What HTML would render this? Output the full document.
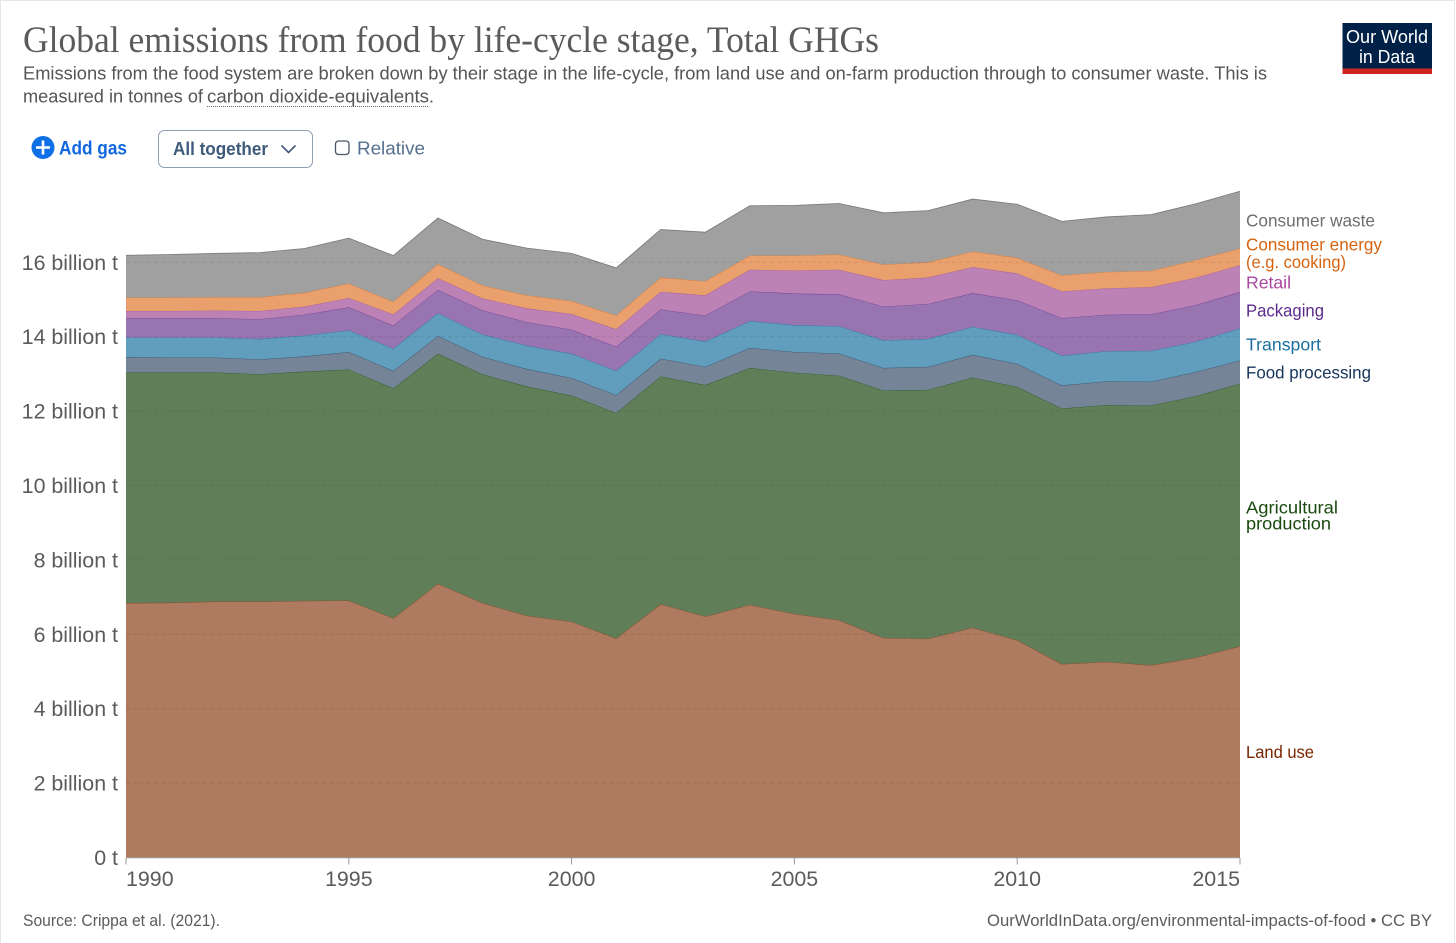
<!DOCTYPE html>
<html lang="en">
<head>
<meta charset="utf-8">
<title>Global emissions from food by life-cycle stage, Total GHGs</title>
<style>
html,body{margin:0;padding:0;background:#fff;width:1456px;height:943px;overflow:hidden}
svg{display:block;font-family:"Liberation Sans",sans-serif}
</style>
</head>
<body>
<svg id="chart" width="1456" height="943" viewBox="0 0 1456 943" xmlns="http://www.w3.org/2000/svg">
  <rect x="0" y="0" width="1456" height="943" fill="#fff"/>
  <path d="M0.5 943V0.5H1454.5V943" fill="none" stroke="#e6e6e6" stroke-width="1"/>

  <text x="23" y="52" font-family="'Liberation Serif',serif" font-size="37" fill="#5b5b5b" textLength="856" lengthAdjust="spacingAndGlyphs">Global emissions from food by life-cycle stage, Total GHGs</text>
  <text x="23" y="79.5" font-size="18" fill="#555" textLength="1244" lengthAdjust="spacingAndGlyphs">Emissions from the food system are broken down by their stage in the life-cycle, from land use and on-farm production through to consumer waste. This is</text>
  <text x="23" y="102.5" font-size="18" fill="#555" textLength="180" lengthAdjust="spacingAndGlyphs">measured in tonnes of</text>
  <text x="207" y="102.5" font-size="18" fill="#555" textLength="222" lengthAdjust="spacingAndGlyphs">carbon dioxide-equivalents</text>
  <text x="429" y="102.5" font-size="18" fill="#555">.</text>
  <line x1="207" y1="106.5" x2="429" y2="106.5" stroke="#666" stroke-width="1" stroke-dasharray="1 1"/>

  <g>
    <rect x="1342.5" y="23" width="89.5" height="51" fill="#002147"/>
    <rect x="1342.5" y="68.5" width="89.5" height="5.5" fill="#ce261e"/>
    <text x="1387" y="43" font-size="18.5" fill="#fff" text-anchor="middle" textLength="82" lengthAdjust="spacingAndGlyphs">Our World</text>
    <text x="1387" y="63" font-size="18.5" fill="#fff" text-anchor="middle" textLength="56" lengthAdjust="spacingAndGlyphs">in Data</text>
  </g>

  <g>
    <circle cx="43" cy="147.5" r="11.5" fill="#0f6fe6"/>
    <path d="M43 140.5V154.5M36 147.5H50" stroke="#fff" stroke-width="2.6"/>
    <text x="59" y="154.5" font-size="19" font-weight="bold" fill="#1068e0" textLength="68" lengthAdjust="spacingAndGlyphs">Add gas</text>
  </g>
  <g>
    <rect x="158.5" y="130.5" width="154" height="37" rx="6" fill="#fff" stroke="#8c9fb5" stroke-width="1"/>
    <text x="173" y="155" font-size="18.5" fill="#3f5a7a" font-weight="bold" textLength="95" lengthAdjust="spacingAndGlyphs">All together</text>
    <path d="M281.5 145.5L288.5 152.5L295.5 145.5" fill="none" stroke="#3f5a7a" stroke-width="1.6"/>
  </g>
  <g>
    <rect x="335.5" y="141" width="13.5" height="13.5" rx="3" fill="#fff" stroke="#4a5663" stroke-width="1.3"/>
    <text x="357" y="154.5" font-size="18.5" fill="#56708f" textLength="68" lengthAdjust="spacingAndGlyphs">Relative</text>
  </g>

  <g id="areas"></g>
  <g id="grid"></g>
  <g id="yticks"></g>
  <g id="xticks"></g>
  <g id="labels" font-size="17.5">
    <text x="1246" y="226.5" fill="#6d6e6e" textLength="129" lengthAdjust="spacingAndGlyphs">Consumer waste</text>
    <text x="1246" y="250.5" fill="#d6630f" textLength="136" lengthAdjust="spacingAndGlyphs">Consumer energy</text>
    <text x="1246" y="268" fill="#d6630f" textLength="100" lengthAdjust="spacingAndGlyphs">(e.g. cooking)</text>
    <text x="1246" y="288.5" fill="#a8479f" textLength="45" lengthAdjust="spacingAndGlyphs">Retail</text>
    <text x="1246" y="316.5" fill="#5b2a8c" textLength="78" lengthAdjust="spacingAndGlyphs">Packaging</text>
    <text x="1246" y="350.5" fill="#1a6f9e" textLength="75" lengthAdjust="spacingAndGlyphs">Transport</text>
    <text x="1246" y="378.5" fill="#18355c" textLength="125" lengthAdjust="spacingAndGlyphs">Food processing</text>
    <text x="1246" y="513.5" fill="#1a4a10" textLength="92" lengthAdjust="spacingAndGlyphs">Agricultural</text>
    <text x="1246" y="529.5" fill="#1a4a10" textLength="85" lengthAdjust="spacingAndGlyphs">production</text>
    <text x="1246" y="758" fill="#7a2500" textLength="68" lengthAdjust="spacingAndGlyphs">Land use</text>
  </g>

  <text x="23" y="926" font-size="16.5" fill="#5b5b5b" textLength="197" lengthAdjust="spacingAndGlyphs">Source: Crippa et al. (2021).</text>
  <text x="987" y="926" font-size="16.5" fill="#5b5b5b" textLength="445" lengthAdjust="spacingAndGlyphs">OurWorldInData.org/environmental-impacts-of-food • CC BY</text>
</svg>
<script>
const years = [1990,1991,1992,1993,1994,1995,1996,1997,1998,1999,2000,2001,2002,2003,2004,2005,2006,2007,2008,2009,2010,2011,2012,2013,2014,2015];
const landUse = [6.84,6.85,6.88,6.88,6.90,6.91,6.43,7.36,6.84,6.50,6.34,5.89,6.81,6.48,6.79,6.55,6.38,5.90,5.88,6.18,5.84,5.20,5.26,5.17,5.37,5.68];
const agriculturalProduction = [6.20,6.19,6.16,6.11,6.16,6.21,6.18,6.18,6.15,6.16,6.08,6.06,6.12,6.22,6.37,6.48,6.57,6.65,6.69,6.72,6.81,6.87,6.90,6.98,7.03,7.06];
const foodProcessing = [0.41,0.40,0.40,0.40,0.41,0.47,0.47,0.48,0.47,0.47,0.47,0.48,0.48,0.49,0.54,0.56,0.60,0.61,0.62,0.61,0.62,0.62,0.64,0.64,0.65,0.62];
const transport = [0.53,0.54,0.54,0.55,0.56,0.58,0.60,0.61,0.60,0.63,0.65,0.65,0.66,0.68,0.72,0.72,0.73,0.74,0.75,0.75,0.78,0.80,0.81,0.83,0.81,0.86];
const packaging = [0.52,0.52,0.52,0.53,0.56,0.62,0.62,0.63,0.65,0.63,0.65,0.65,0.66,0.70,0.80,0.85,0.86,0.91,0.94,0.91,0.93,1.01,0.98,0.98,0.99,0.98];
const retail = [0.19,0.19,0.20,0.22,0.22,0.25,0.30,0.31,0.32,0.37,0.42,0.47,0.48,0.54,0.58,0.62,0.66,0.71,0.71,0.70,0.72,0.72,0.71,0.73,0.73,0.72];
const consumerEnergy = [0.36,0.36,0.36,0.37,0.37,0.39,0.34,0.38,0.35,0.35,0.35,0.37,0.38,0.38,0.38,0.40,0.41,0.42,0.41,0.42,0.42,0.43,0.44,0.44,0.48,0.45];
const consumerWaste = [1.14,1.16,1.18,1.20,1.19,1.22,1.24,1.24,1.24,1.27,1.28,1.28,1.29,1.32,1.34,1.35,1.37,1.39,1.39,1.41,1.44,1.45,1.48,1.51,1.51,1.54];
const seriesNames = ["land-use","agricultural-production","food-processing","transport","packaging","retail","consumer-energy","consumer-waste"];
const yTickValues = [0,2,4,6,8,10,12,14,16];
const xTickYears = [1990,1995,2000,2005,2010,2015];

const allSeries = [landUse,agriculturalProduction,foodProcessing,transport,packaging,retail,consumerEnergy,consumerWaste];
const fills = ["#ae7a60","#607f58","#758496","#619ebe","#9875b0","#bc82b6","#e9a06c","#a0a0a0"];
const strokes = ["#8a4a2c","#2f5a28","#3c5068","#2f7ba5","#6c4394","#a25c9b","#d77e3d","#777777"];

const NS = "http://www.w3.org/2000/svg";
const xScale = function (year) { return 126 + (year - years[0]) * (1240 - 126) / (years[years.length - 1] - years[0]); };
const yScale = function (value) { return 857.5 - value * 37.2; };

const areasGroup = document.getElementById("areas");
const gridGroup = document.getElementById("grid");
const yGroup = document.getElementById("yticks");
const xGroup = document.getElementById("xticks");

let baseline = years.map(function () { return 0; });
allSeries.forEach(function (values, s) {
  const tops = values.map(function (v, i) { return baseline[i] + v; });
  const topPts = years.map(function (yr, i) { return xScale(yr).toFixed(2) + " " + yScale(tops[i]).toFixed(2); });
  const basePts = years.map(function (yr, i) { return xScale(yr).toFixed(2) + " " + yScale(baseline[i]).toFixed(2); }).reverse();
  const area = document.createElementNS(NS, "path");
  area.setAttribute("d", "M" + topPts.join("L") + "L" + basePts.join("L") + "Z");
  area.setAttribute("fill", fills[s]);
  
  
  areasGroup.appendChild(area);
  const line = document.createElementNS(NS, "path");
  line.setAttribute("d", "M" + topPts.join("L"));
  line.setAttribute("fill", "none");
  line.setAttribute("stroke", strokes[s]);
  line.setAttribute("stroke-width", "0.8");
  
  
  areasGroup.appendChild(line);
  baseline = tops;
});

yTickValues.forEach(function (v) {
  const y = yScale(v);
  if (v > 0) {
    const grid = document.createElementNS(NS, "line");
    grid.setAttribute("x1", 126);
    grid.setAttribute("x2", 1240);
    grid.setAttribute("y1", y);
    grid.setAttribute("y2", y);
    grid.setAttribute("stroke", "#000");
    grid.setAttribute("stroke-opacity", "0.09");
    grid.setAttribute("stroke-dasharray", "4 3");
    
    
    gridGroup.appendChild(grid);
  }
  const label = document.createElementNS(NS, "text");
  label.setAttribute("x", 118);
  label.setAttribute("y", y + 7.5);
  label.setAttribute("text-anchor", "end");
  label.setAttribute("font-size", "21.4");
  label.setAttribute("fill", "#5b5b5b");
  label.textContent = v === 0 ? "0 t" : v + " billion t";
  
  
  yGroup.appendChild(label);
});

const axisLine = document.createElementNS(NS, "line");
axisLine.setAttribute("x1", 126);
axisLine.setAttribute("x2", 1240);
axisLine.setAttribute("y1", 857.8);
axisLine.setAttribute("y2", 857.8);
axisLine.setAttribute("stroke", "#999");
axisLine.setAttribute("stroke-width", "1");


xGroup.appendChild(axisLine);

xTickYears.forEach(function (yr, i) {
  const x = xScale(yr);
  const tick = document.createElementNS(NS, "line");
  tick.setAttribute("x1", x);
  tick.setAttribute("x2", x);
  tick.setAttribute("y1", 858);
  tick.setAttribute("y2", 864.5);
  tick.setAttribute("stroke", "#999");
  tick.setAttribute("stroke-width", "1");
  
  
  xGroup.appendChild(tick);
  const label = document.createElementNS(NS, "text");
  label.setAttribute("x", x);
  label.setAttribute("y", 886);
  label.setAttribute("font-size", "21.4");
  label.setAttribute("fill", "#5b5b5b");
  label.setAttribute("text-anchor", i === 0 ? "start" : (i === xTickYears.length - 1 ? "end" : "middle"));
  label.textContent = yr;
  
  
  xGroup.appendChild(label);
});
</script>
</body>
</html>
